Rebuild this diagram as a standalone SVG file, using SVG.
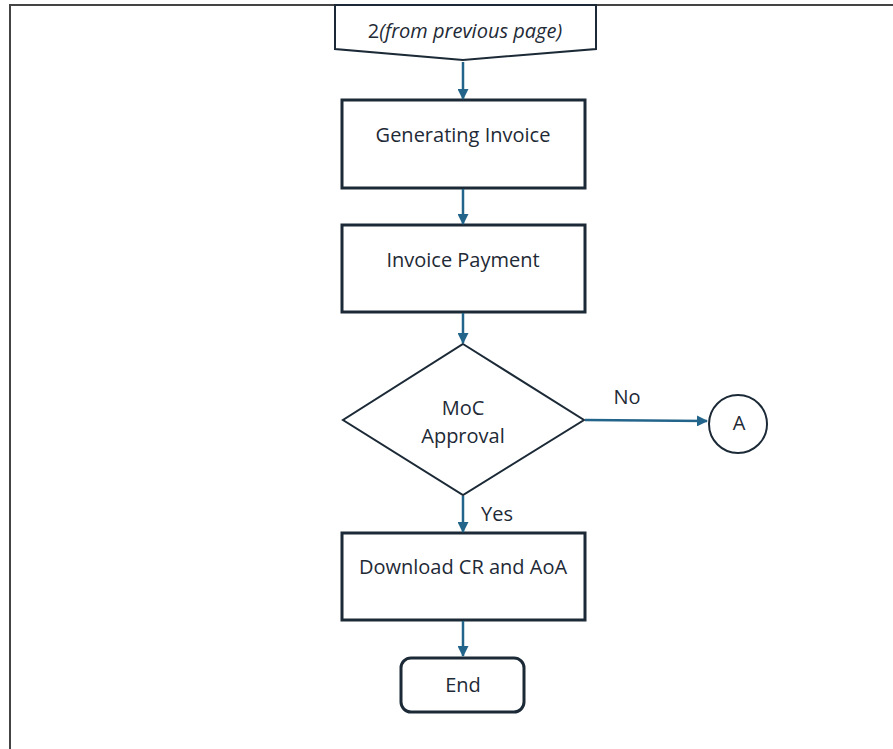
<svg xmlns="http://www.w3.org/2000/svg" width="893" height="749" viewBox="0 0 893 749">
<defs>
<marker id="ah" markerWidth="11" markerHeight="11" refX="10" refY="5.5" orient="auto" markerUnits="userSpaceOnUse">
<path d="M0,0 L11,5.5 L0,11 Z" fill="#23648a"/>
</marker>
<style>
.box{fill:#fff;stroke:#1b2a36;stroke-width:3}
.thin{fill:#fff;stroke:#1b2a36;stroke-width:2}
.t{font-family:"Open Sans","Liberation Sans",sans-serif;font-size:20px;fill:#1e2a36;text-anchor:middle}
.c{fill:none;stroke:#23648a;stroke-width:2.5;marker-end:url(#ah)}
</style>
</defs>
<rect width="893" height="749" fill="#fff"/>
<path d="M10,749 L10,5 L893,5" fill="none" stroke="#444" stroke-width="2"/>
<g id="start">
<path class="thin" d="M335,5 L596,5 L596,49 L463,60 L335,49 Z"/>
<text class="t" x="465" y="38" font-size="20.5">2<tspan font-style="italic">(from previous page)</tspan></text>
</g>
<g id="generating">
<rect class="box" x="342" y="100" width="243" height="88"/>
<text class="t" x="463" y="142">Generating Invoice</text>
</g>
<g id="payment">
<rect class="box" x="342" y="225" width="243" height="87"/>
<text class="t" x="463" y="267">Invoice Payment</text>
</g>
<g id="decision">
<path class="thin" d="M463,344 L584,420 L463,495 L343,420 Z"/>
<text class="t" x="463" y="415">MoC</text>
<text class="t" x="463" y="443">Approval</text>
</g>
<g id="connA">
<circle class="thin" cx="738" cy="424" r="29"/>
<text class="t" x="739" y="430" font-size="17">A</text>
</g>
<g id="download">
<rect class="box" x="342" y="533" width="243" height="87"/>
<text class="t" x="463" y="574">Download CR and AoA</text>
</g>
<g id="end">
<rect class="box" x="401" y="658" width="123" height="54" rx="10"/>
<text class="t" x="463" y="692">End</text>
</g>
<g id="connectors">
<path class="c" d="M463,62 L463,99"/>
<path class="c" d="M463,189 L463,224"/>
<path class="c" d="M463,313 L463,343"/>
<path class="c" d="M585,420 L707,421"/>
<path class="c" d="M463,496 L463,532"/>
<path class="c" d="M463,621 L463,656"/>
<text class="t" x="627" y="404">No</text>
<text class="t" x="497" y="521">Yes</text>
</g>
</svg>
